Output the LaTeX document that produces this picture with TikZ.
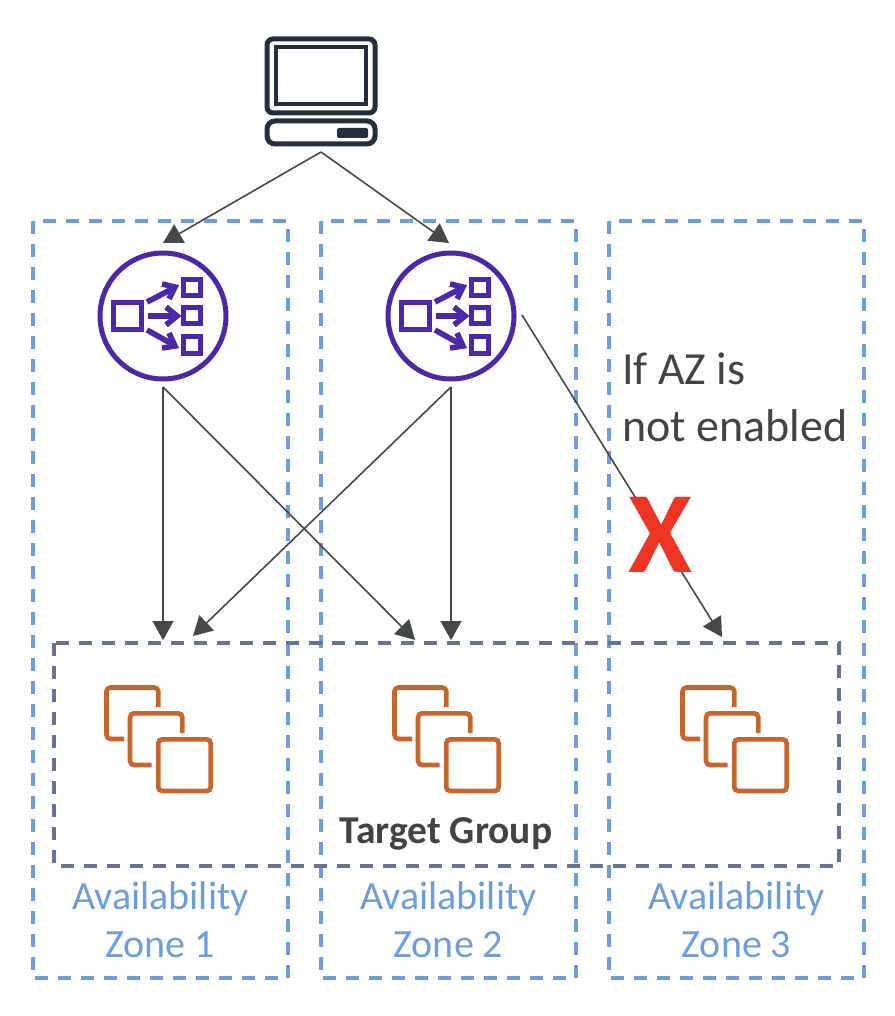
\documentclass[tikz,border=0pt]{standalone}
\usepackage{fontspec}
\setmainfont{Carlito}
\usetikzlibrary{arrows.meta}
\definecolor{azblue}{HTML}{6C9FD9}
\definecolor{tgslate}{HTML}{667392}
\definecolor{inkdark}{HTML}{232F3E}
\definecolor{lbpurple}{HTML}{4D27A8}
\definecolor{ec2orange}{HTML}{C8652B}
\definecolor{arrowgrey}{HTML}{454849}
\definecolor{textgrey}{HTML}{404445}
\definecolor{xred}{HTML}{EE3524}
\tikzset{
  x=1pt,y=-1pt,
  azbox/.style={draw=azblue,line width=3.6pt,dash pattern=on 13pt off 10pt},
  tgbox/.style={draw=tgslate,line width=3.6pt,dash pattern=on 13pt off 10pt},
  conn/.style={draw=arrowgrey,line width=1.6pt,-{Triangle[length=19pt,width=21pt]}},
  azlabel/.style={text=azblue,font=\fontsize{40}{48}\selectfont,align=center,inner sep=0pt,anchor=center},
  greytext/.style={text=textgrey,font=\fontsize{46}{57}\selectfont,align=left,inner sep=0pt,anchor=north west},
  pcline/.style={draw=inkdark,line width=5pt,fill=none},
  lbline/.style={draw=lbpurple,line width=5pt,fill=none},
  lbarrow/.style={draw=lbpurple,line width=5.6pt},
  ec2line/.style={draw=ec2orange,line width=4.6pt,fill=none,rounded corners=4pt},
  anchorpt/.style={inner sep=0pt,minimum size=0pt},
}
\newcommand{\lbicon}[1]{%
  \begin{scope}[shift={#1}]
    \draw[lbline] (0,0) circle (63);
    \draw[lbline] (-50,-14) rectangle (-22,13);
    \draw[lbline] (20,-37) rectangle (37,-21);
    \draw[lbline] (20,-9) rectangle (37,7);
    \draw[lbline] (20,20) rectangle (37,37);
    \draw[lbarrow] (-16,-14) -- (11,-28);
    \draw[lbarrow,line join=miter] (-1,-32) -- (12,-29) -- (6,-17);
    \draw[lbarrow] (-15,0) -- (13,0);
    \draw[lbarrow,line join=miter] (3,-9) -- (14,0) -- (3,9);
    \draw[lbarrow] (-16,14) -- (11,29);
    \draw[lbarrow,line join=miter] (6,17) -- (12,30) -- (-1,32);
  \end{scope}}
\newcommand{\ectwoicon}[1]{%
  \begin{scope}[shift={#1}]
    \draw[ec2line] (158.3,707) -- (158.3,687.5) -- (106.5,687.5) -- (106.5,739) -- (124,739);
    \draw[ec2line] (182.3,733) -- (182.3,713.3) -- (130,713.3) -- (130,765) -- (151.7,765);
    \draw[ec2line] (158.3,739.3) rectangle (210.7,791);
  \end{scope}}
\begin{document}
\begin{tikzpicture}
\useasboundingbox (0,0) rectangle (894,1016);
% availability zones
\draw[azbox] (33,221) rectangle (288,978);
\draw[azbox] (321,221) rectangle (576,978);
\draw[azbox] (609,221) rectangle (864,978);
% target group
\draw[tgbox] (54,643) rectangle (839,866);
% computer
\draw[pcline,rounded corners=6pt] (267,39) rectangle (375,113);
\draw[pcline,line width=4.4pt] (276,47) rectangle (366,104);
\draw[pcline,rounded corners=8pt] (267,121) rectangle (375,144);
\fill[inkdark,rounded corners=1.5pt] (337,128) rectangle (368,138);
% load balancers
\lbicon{(163,316)}
\lbicon{(451,316)}
% instances
\ectwoicon{(0,0)}
\ectwoicon{(288,0)}
\ectwoicon{(576,0)}
% anchor points
\node[anchorpt] (pc) at (321,152) {};
\node[anchorpt] (lbAin) at (163,243) {};
\node[anchorpt] (lbBin) at (449,243) {};
\node[anchorpt] (lbAout) at (163,387) {};
\node[anchorpt] (lbBout) at (451,387) {};
\node[anchorpt] (lbBside) at (522,315) {};
\node[anchorpt] (tgAa) at (163,640) {};
\node[anchorpt] (tgAb) at (193,636) {};
\node[anchorpt] (tgBa) at (415,640) {};
\node[anchorpt] (tgBb) at (451,640) {};
\node[anchorpt] (tgC) at (722,637) {};
% connectors
\draw[conn] (pc.center) -- (lbAin.center);
\draw[conn] (pc.center) -- (lbBin.center);
\draw[conn] (lbAout.center) -- (tgAa.center);
\draw[conn] (lbAout.center) -- (tgBa.center);
\draw[conn] (lbBout.center) -- (tgBb.center);
\draw[conn] (lbBout.center) -- (tgAb.center);
\draw[conn] (lbBside.center) -- (tgC.center);
% texts
\node[greytext] (note) at (622,353) {If AZ is\\not enabled};
\node[text=xred,font=\fontsize{116}{116}\selectfont\bfseries,inner sep=0pt] (cross) at (660,535) {X};
\node[text=textgrey,font=\fontsize{39.5}{44}\selectfont\bfseries,inner sep=0pt] (tg) at (446,834) {Target Group};
\node[azlabel] (z1) at (160.5,920) {Availability\\Zone 1};
\node[azlabel] (z2) at (448.5,920) {Availability\\Zone 2};
\node[azlabel] (z3) at (736.5,920) {Availability\\Zone 3};
\end{tikzpicture}
\end{document}
